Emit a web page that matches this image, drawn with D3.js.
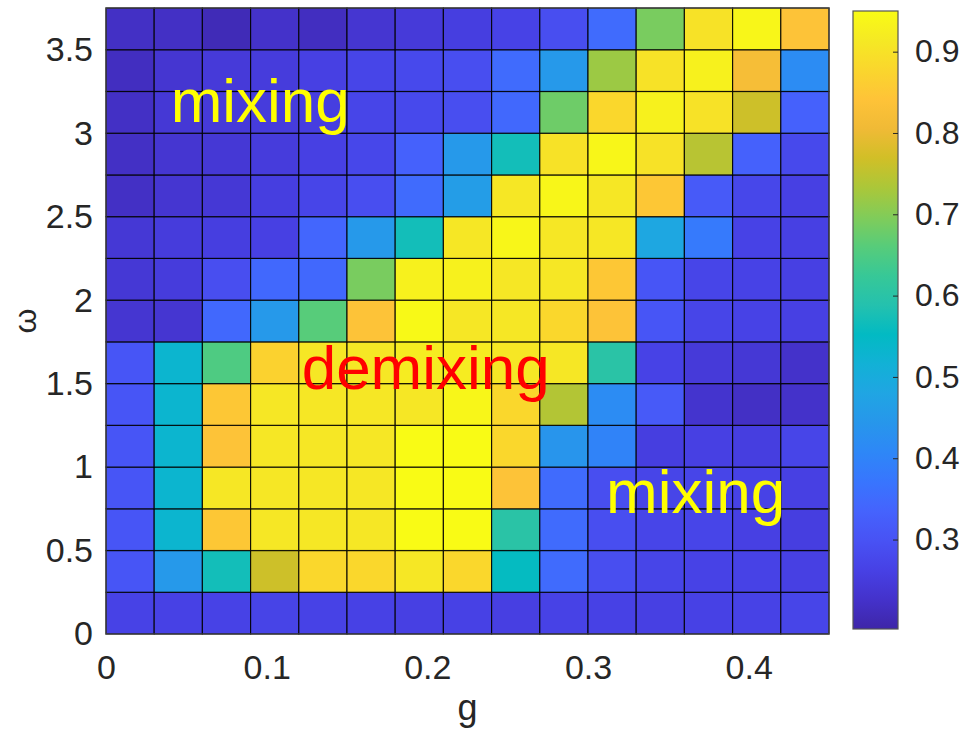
<!DOCTYPE html>
<html>
<head>
<meta charset="utf-8">
<script src="https://cdn.jsdelivr.net/npm/d3@7"></script>
<style>
  body{margin:0;background:#fff;}
  text{font-family:"Liberation Sans",Arial,Helvetica,sans-serif;}
</style>
</head>
<body>
<div id="chart"></div>
<script>

// cell lower-left corners
const gCells=[0,0.03,0.06,0.09,0.12,0.15,0.18,0.21,0.24,0.27,0.30,0.33,0.36,0.39,0.42];
const omegaCells=[0,0.25,0.5,0.75,1.0,1.25,1.5,1.75,2.0,2.25,2.5,2.75,3.0,3.25,3.5];
const gStep=0.03, omegaStep=0.25;

// values, one row per omega cell (bottom row first)
const values=[
    [0.265,0.262,0.265,0.268,0.265,0.262,0.26,0.262,0.258,0.265,0.262,0.26,0.262,0.265,0.27],
    [0.305,0.45,0.57,0.765,0.88,0.88,0.91,0.88,0.555,0.35,0.29,0.27,0.265,0.265,0.26],
    [0.305,0.53,0.85,0.91,0.91,0.91,0.95,0.95,0.60,0.35,0.29,0.27,0.27,0.26,0.255],
    [0.305,0.53,0.91,0.91,0.91,0.91,0.95,0.95,0.84,0.35,0.29,0.27,0.27,0.265,0.26],
    [0.305,0.53,0.84,0.91,0.91,0.91,0.95,0.95,0.88,0.44,0.40,0.255,0.26,0.255,0.27],
    [0.305,0.53,0.85,0.91,0.91,0.91,0.91,0.94,0.88,0.74,0.42,0.315,0.23,0.22,0.225],
    [0.305,0.53,0.65,0.87,0.91,0.91,0.92,0.92,0.91,0.91,0.60,0.265,0.245,0.24,0.225],
    [0.235,0.235,0.345,0.45,0.66,0.84,0.945,0.91,0.91,0.88,0.84,0.305,0.27,0.265,0.26],
    [0.24,0.25,0.29,0.345,0.345,0.69,0.93,0.93,0.91,0.91,0.85,0.305,0.27,0.265,0.26],
    [0.24,0.25,0.255,0.26,0.34,0.45,0.57,0.91,0.94,0.91,0.91,0.485,0.38,0.265,0.26],
    [0.22,0.235,0.24,0.255,0.27,0.29,0.35,0.46,0.91,0.94,0.91,0.85,0.315,0.275,0.26],
    [0.22,0.235,0.24,0.25,0.26,0.275,0.33,0.45,0.57,0.90,0.94,0.90,0.745,0.33,0.28],
    [0.22,0.24,0.245,0.25,0.255,0.27,0.28,0.29,0.345,0.68,0.88,0.93,0.90,0.765,0.33],
    [0.215,0.235,0.245,0.25,0.26,0.27,0.28,0.29,0.35,0.45,0.72,0.90,0.93,0.82,0.42],
    [0.22,0.22,0.205,0.225,0.215,0.235,0.245,0.255,0.265,0.29,0.35,0.69,0.90,0.94,0.84]
];

const gTicks=[0,0.1,0.2,0.3,0.4];
const omegaTicks=[0,0.5,1,1.5,2,2.5,3,3.5];
const colorTicks=[0.3,0.4,0.5,0.6,0.7,0.8,0.9];
const colorRange=[0.19,0.95];

const regionLabels=[
    {text:"mixing",g:0.096,omega:3.07,color:"#ffff00"},
    {text:"demixing",g:0.199,omega:1.47,color:"#ff0000"},
    {text:"mixing",g:0.367,omega:0.725,color:"#ffff00"}
];

// parula colormap
const parula=["#3e26a8","#4432cb","#4741e5","#4852f4","#4563fd","#3875fe","#2e87f7","#2796eb",
    "#20a5e3","#12b1d6","#02bac3","#24c1ae","#37c897","#57cc7a","#81cc59","#abc739",
    "#d1bf27","#f0ba36","#fec338","#fad62d","#f5e924","#f9fb15"];

const W=962,H=740;
const plot={left:106,right:829,top:8,bottom:634};
const bar={left:853,right:898,top:11,bottom:629};

const svg=d3.select("#chart").append("svg")
    .attr("width",W)
    .attr("height",H);

const x=d3.scaleLinear().domain([0,0.45]).range([plot.left,plot.right]);
const y=d3.scaleLinear().domain([0,3.75]).range([plot.bottom,plot.top]);

const cmap=d3.scaleLinear()
    .domain(parula.map((c,i)=>i/(parula.length-1)))
    .range(parula)
    .interpolate(d3.interpolateRgb)
    .clamp(true);
const toT=d3.scaleLinear().domain(colorRange).range([0,1]).clamp(true);
const colorOf=v=>cmap(toT(v));

const cells=[];
values.forEach((row,i)=>row.forEach((v,j)=>cells.push({g:gCells[j],w:omegaCells[i],v:v})));

svg.append("g")
    .selectAll("rect")
    .data(cells)
    .enter()
    .append("rect")
    .attr("x",d=>x(d.g))
    .attr("y",d=>y(d.w+omegaStep))
    .attr("width",d=>x(d.g+gStep)-x(d.g))
    .attr("height",d=>y(d.w)-y(d.w+omegaStep))
    .attr("fill",d=>colorOf(d.v))
    .attr("stroke","#000")
    .attr("stroke-opacity",0.85)
    .attr("stroke-width",1.2);

svg.append("rect")
    .attr("x",plot.left)
    .attr("y",plot.top)
    .attr("width",plot.right-plot.left)
    .attr("height",plot.bottom-plot.top)
    .attr("fill","none")
    .attr("stroke","#444")
    .attr("stroke-width",1.2);

// axes
const xAxis=svg.append("g")
    .attr("transform",`translate(0,${plot.bottom})`)
    .call(d3.axisBottom(x).tickValues(gTicks).tickFormat(d3.format("")).tickSize(0).tickPadding(21));
const yAxis=svg.append("g")
    .attr("transform",`translate(${plot.left},0)`)
    .call(d3.axisLeft(y).tickValues(omegaTicks).tickFormat(d3.format("")).tickSize(0).tickPadding(13));
[xAxis,yAxis].forEach(a=>{
    a.select(".domain").remove();
    a.selectAll("text")
        .attr("fill","#262626")
        .style("font-size","34px")
        .style("font-family","'Liberation Sans',Arial,sans-serif");
});

svg.append("text")
    .attr("x",(plot.left+plot.right)/2)
    .attr("y",720)
    .attr("text-anchor","middle")
    .attr("fill","#262626")
    .style("font-size","36px")
    .text("g");

svg.append("text")
    .attr("transform",`translate(36,${(plot.top+plot.bottom)/2}) rotate(-90)`)
    .attr("text-anchor","middle")
    .attr("fill","#262626")
    .style("font-size","32px")
    .text("ω");

// region labels
svg.append("g")
    .selectAll("text")
    .data(regionLabels)
    .enter()
    .append("text")
    .attr("x",d=>x(d.g))
    .attr("y",d=>y(d.omega))
    .attr("text-anchor","middle")
    .attr("fill",d=>d.color)
    .style("font-size","62px")
    .text(d=>d.text);

// colorbar
const grad=svg.append("defs").append("linearGradient")
    .attr("id","parulaGrad")
    .attr("x1",0).attr("y1",1).attr("x2",0).attr("y2",0);
grad.selectAll("stop")
    .data(parula)
    .enter()
    .append("stop")
    .attr("offset",(d,i)=>i/(parula.length-1))
    .attr("stop-color",d=>d);

const cy=d3.scaleLinear().domain(colorRange).range([bar.bottom,bar.top]);

svg.append("rect")
    .attr("x",bar.left)
    .attr("y",bar.top)
    .attr("width",bar.right-bar.left)
    .attr("height",bar.bottom-bar.top)
    .attr("fill","url(#parulaGrad)")
    .attr("stroke","#555")
    .attr("stroke-width",1.2);

const cAxis=svg.append("g")
    .attr("transform",`translate(${bar.right},0)`)
    .call(d3.axisRight(cy).tickValues(colorTicks).tickFormat(d3.format("")).tickSizeInner(-5).tickSizeOuter(0).tickPadding(17));
cAxis.select(".domain").remove();
cAxis.selectAll("line").attr("stroke","#262626");
cAxis.selectAll("text")
    .attr("fill","#262626")
    .style("font-size","32px")
    .style("font-family","'Liberation Sans',Arial,sans-serif");

</script>
</body>
</html>
